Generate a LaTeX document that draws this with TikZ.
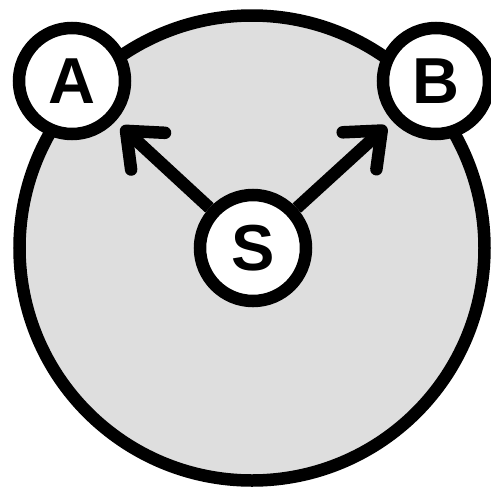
\documentclass[tikz,border=0pt]{standalone}
\usepackage{fontspec}
\setmainfont{Liberation Sans}
\usetikzlibrary{arrows.meta}
\definecolor{areagray}{HTML}{DEDEDE}

\begin{document}
\begin{tikzpicture}[x=1pt,y=-1pt,
    region/.style={circle,draw,line width=12.5pt,fill=areagray,minimum size=465pt,inner sep=0pt},
    party/.style={circle,draw,line width=12.5pt,fill=white,minimum size=106pt,inner sep=0pt,
      font=\fontsize{65}{65}\selectfont\bfseries},
    send/.style={line width=12.5pt,-{Straight Barb[length=30pt,width=50pt,round]},shorten >=8pt}]
  \useasboundingbox (0,0) rectangle (491,491);
  \node[region] (u) at (252,248) {};
  \node[party] (s) at (253,248) {S};
  \node[party] (a) at (72,81) {A};
  \node[party] (b) at (436,81) {B};
  \draw[send] (s) -- (a);
  \draw[send] (s) -- (b);
\end{tikzpicture}
\end{document}
